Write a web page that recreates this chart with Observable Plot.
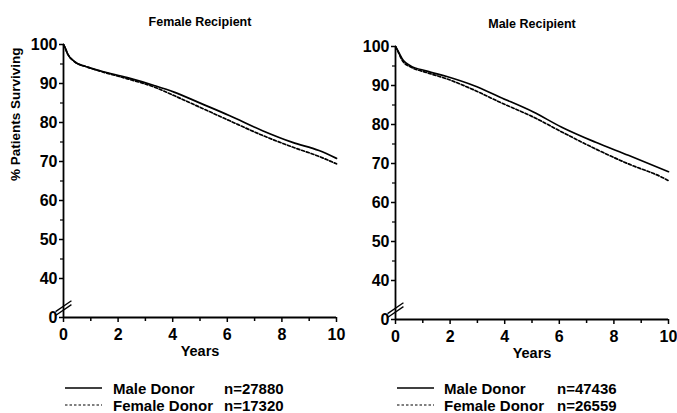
<!DOCTYPE html>
<html><head><meta charset="utf-8">
<script src="https://cdn.jsdelivr.net/npm/d3@7"></script>
<script src="https://cdn.jsdelivr.net/npm/@observablehq/plot@0.6"></script>
<style>
body{margin:0;background:#fff;}
#wrap{position:relative;width:677px;height:413px;overflow:hidden;font-family:"Liberation Sans",Arial,sans-serif;font-weight:bold;color:#000;background:#fff;}
.panel{position:absolute;}
.lg{position:absolute;font-size:15px;line-height:17px;white-space:nowrap;}
.lgline{position:absolute;}
</style></head><body><div id="wrap"></div>
<script>
// ---- data ----
const panelTitles = ["Female Recipient", "Male Recipient"];
const donorLabels = ["Male Donor", "Female Donor"];
const nFemaleRecipient = [27880, 17320];
const nMaleRecipient = [47436, 26559];

const xMajorTicks = [0, 2, 4, 6, 8, 10];
const xMinorTicks = [1, 3, 5, 7, 9];
const yMajorTicks = [30, 40, 50, 60, 70, 80, 90, 100]; // 30 is drawn as "0" below the axis break
const yMinorTicks = [45, 55, 65, 75, 85, 95];
const axisBreaks = [31.9, 32.9];

// Female recipient
const frMaleDonorYears  = [0, 0.05, 0.15, 0.39, 0.88, 1.37, 2.34, 3.32, 4.05, 5.03, 6.07, 7.29, 8.39, 9.36, 10];
const frMaleDonorSurv   = [100, 99.3, 97.6, 95.7, 94.2, 93.2, 91.5, 89.5, 87.8, 84.9, 81.8, 77.9, 74.9, 72.8, 70.8];
const frFemaleDonorYears = [0, 0.05, 0.15, 0.39, 0.88, 1.37, 2.34, 3.32, 4.05, 5.0, 6.07, 7.29, 8.39, 9.36, 10];
const frFemaleDonorSurv  = [100, 99.3, 97.6, 95.7, 94.2, 93.1, 91.2, 89.1, 86.9, 83.9, 80.5, 76.7, 73.7, 71.3, 69.4];

// Male recipient
const mrMaleDonorYears  = [0, 0.05, 0.29, 0.54, 1.15, 1.88, 2.86, 3.83, 5.05, 6.09, 7.31, 8.53, 10];
const mrMaleDonorSurv   = [100, 99.4, 96.4, 95.1, 93.7, 92.3, 90.0, 87.0, 83.2, 79.3, 75.5, 72.1, 67.9];
const mrFemaleDonorYears = [0, 0.05, 0.29, 0.54, 1.15, 1.88, 2.86, 3.83, 5.05, 6.09, 7.31, 8.53, 9.75, 10];
const mrFemaleDonorSurv  = [100, 99.3, 96.0, 94.8, 93.3, 91.7, 88.9, 85.7, 81.9, 78.1, 73.8, 69.9, 66.5, 65.6];

function series(years, surv, donor) {
  return years.map((t, i) => ({t, s: surv[i], donor}));
}
const dashFor = {"Male Donor": null, "Female Donor": "3,2"};

const font = '"Liberation Sans", Arial, sans-serif';

function makePanel(title, data, showYLabel) {
  return Plot.plot({
    width: 345, height: 365,
    marginLeft: 63, marginRight: 9, marginTop: 44, marginBottom: 48,
    x: {domain: [0, 10]},
    y: {domain: [30, 100]},
    style: {fontFamily: font, fontWeight: "bold", fontSize: "16px", background: "transparent", color: "black", overflow: "visible"},
    marks: [
      Plot.axisX({ticks: xMajorTicks, tickSize: 5, tickPadding: 6, label: null, strokeWidth: 1.5, fontSize: 16}),
      Plot.axisX({ticks: xMinorTicks, tickSize: 4, tickFormat: () => "", label: null, strokeWidth: 1.5}),
      Plot.axisY({ticks: yMajorTicks, tickSize: 4, tickPadding: 2, label: null, strokeWidth: 1.5, fontSize: 16,
                  tickFormat: d => d === 30 ? "0" : String(d)}),
      Plot.axisY({ticks: yMinorTicks, tickSize: 3, tickFormat: () => "", label: null, strokeWidth: 1.2}),
      Plot.ruleX([0], {strokeWidth: 1.8}),
      Plot.ruleY([30], {strokeWidth: 1.8}),
      Plot.link(axisBreaks, {x1: -0.29, x2: 0.29, y1: d => d - 1.4, y2: d => d + 1.4, strokeWidth: 1.3}),
      ...donorLabels.map(dn => Plot.line(data.filter(d => d.donor === dn), {
        x: "t", y: "s", stroke: "black", strokeWidth: 1.7, curve: "monotone-x",
        strokeDasharray: dashFor[dn]
      })),
      Plot.text([title], {text: d => d, frameAnchor: "top", dy: -27, fontSize: 12.5}),
      Plot.text(["Years"], {text: d => d, frameAnchor: "bottom", dy: 38, fontSize: 14.5}),
      ...(showYLabel ? [Plot.text(["% Patients Surviving"], {text: d => d, frameAnchor: "left", dx: -48, rotate: -90, fontSize: 13.5})] : [])
    ]
  });
}

const wrap = document.getElementById("wrap");

const left = makePanel(panelTitles[0],
  [...series(frMaleDonorYears, frMaleDonorSurv, "Male Donor"), ...series(frFemaleDonorYears, frFemaleDonorSurv, "Female Donor")], true);
left.classList.add("panel"); left.style.left = "0px"; left.style.top = "0px";

const right = makePanel(panelTitles[1],
  [...series(mrMaleDonorYears, mrMaleDonorSurv, "Male Donor"), ...series(mrFemaleDonorYears, mrFemaleDonorSurv, "Female Donor")], false);
right.classList.add("panel"); right.style.left = "332px"; right.style.top = "2px";
wrap.appendChild(right);
wrap.appendChild(left);

// legends
function legend(lineX, textX, nX, counts) {
  const rowsY = [388, 405];
  donorLabels.forEach((dn, i) => {
    const y = rowsY[i];
    const svg = d3.create("svg").attr("class", "lgline")
      .attr("width", 38).attr("height", 4)
      .style("left", lineX + "px").style("top", (y - 2) + "px");
    svg.append("line").attr("x1", 0).attr("x2", 37).attr("y1", 2).attr("y2", 2)
      .attr("stroke", "black").attr("stroke-width", dashFor[dn] ? 1.2 : 1.6)
      .attr("stroke-dasharray", dashFor[dn] ? "2.5,2" : null);
    wrap.appendChild(svg.node());
    const t = document.createElement("div");
    t.className = "lg"; t.textContent = dn;
    t.style.left = textX + "px"; t.style.top = (y - 8) + "px";
    wrap.appendChild(t);
    const n = document.createElement("div");
    n.className = "lg"; n.textContent = "n=" + counts[i];
    n.style.left = nX + "px"; n.style.top = (y - 8) + "px";
    wrap.appendChild(n);
  });
}
legend(65, 113, 224, nFemaleRecipient);
legend(397, 444, 557, nMaleRecipient);
</script>
</body></html>
